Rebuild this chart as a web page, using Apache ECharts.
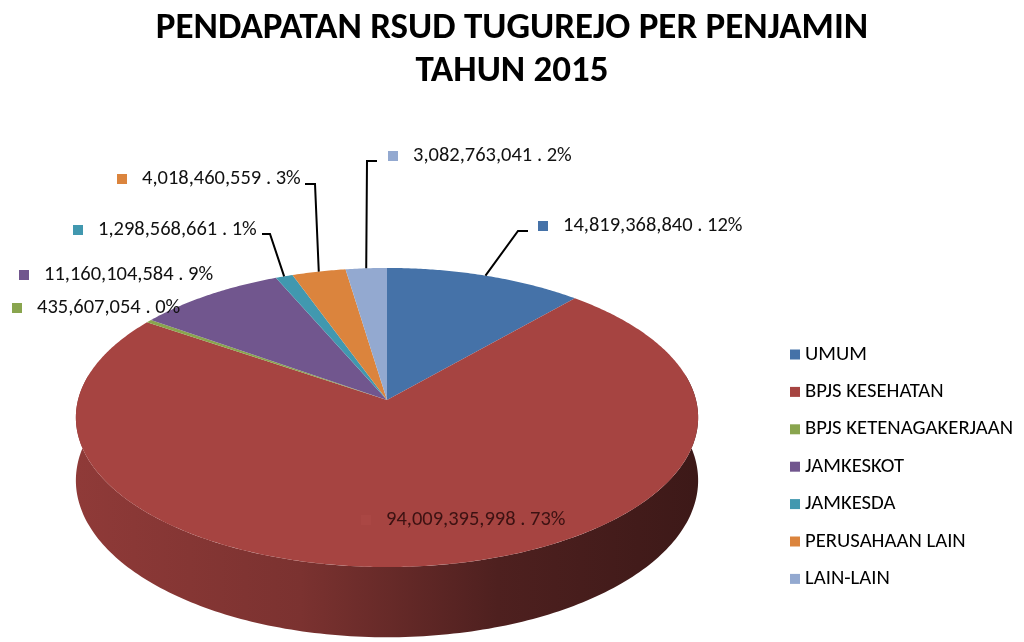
<!DOCTYPE html>
<html>
<head>
<meta charset="utf-8">
<title>Pendapatan RSUD Tugurejo</title>
<script src="https://cdn.jsdelivr.net/npm/echarts@6/dist/echarts.min.js"></script>
<style>
    html, body { margin: 0; padding: 0; background: #fff; }
    #main { width: 1024px; height: 642px; }
</style>
</head>
<body>
<div id="main"></div>
<script>
// data
var categories = ['UMUM', 'BPJS KESEHATAN', 'BPJS KETENAGAKERJAAN', 'JAMKESKOT', 'JAMKESDA', 'PERUSAHAAN LAIN', 'LAIN-LAIN'];
var values = [14819368840, 94009395998, 435607054, 11160104584, 1298568661, 4018460559, 3082763041];

// styles
var colors = ['#4572A8', '#A64441', '#89A54E', '#71568E', '#4198AF', '#DB843D', '#93A9D0'];
var font = "Carlito, Calibri, 'Liberation Sans Narrow', 'Open Sans', sans-serif";

// label layout: square left x, centre y
var labelPos = [[538, 226], [361, 520], [12, 308], [19, 275], [73, 230], [117, 179], [388, 156]];
// leader: start point at label, elbow; end point comes from the slice
var leaderPts = [[[528, 231], [518, 231]], null, null, null, [[262, 234], [270, 234]], [[305, 184], [315, 184]], [[377, 161], [367, 161]]];

// 3d-ish pie geometry (perspective ellipse)
var PIE = {cx: 387, cy: 400, rx: 309, ry: 147.5, a: 0.117, h: 62};

var total = values.reduce(function (s, v) { return s + v; }, 0);
var startAngles = [], endAngles = [];
(function () {
    var acc = 0;
    for (var i = 0; i < values.length; i++) {
        startAngles.push(acc / total * 360);
        acc += values[i];
        endAngles.push(acc / total * 360);
    }
})();

function proj(deg) {
    var t = deg * Math.PI / 180;
    var u = Math.sin(t), v = -Math.cos(t);
    var s = 1 / (1 - PIE.a * v);
    return [PIE.cx + PIE.rx * u * s, PIE.cy + PIE.ry * v * s, s];
}

function fmt(n) {
    return String(n).replace(/\B(?=(\d{3})+(?!\d))/g, ',');
}

function shade(hex, f) {
    var c = parseInt(hex.slice(1), 16);
    var r = Math.round(((c >> 16) & 255) * f), g = Math.round(((c >> 8) & 255) * f), b = Math.round((c & 255) * f);
    return 'rgb(' + r + ',' + g + ',' + b + ')';
}

function sideFill(i) {
    return {
        type: 'linear', global: true,
        x: PIE.cx - PIE.rx, y: 0, x2: PIE.cx + PIE.rx, y2: 0,
        colorStops: [
            {offset: 0, color: shade(colors[i], 0.86)},
            {offset: 0.36, color: shade(colors[i], 0.74)},
            {offset: 0.68, color: shade(colors[i], 0.47)},
            {offset: 1, color: shade(colors[i], 0.37)}
        ]
    };
}

function renderSlice(i) {
    return function (params, api) {
        var a0 = startAngles[i], a1 = endAngles[i];
        var children = [];
        // side (only the front part can be seen)
        var s0 = Math.max(a0, 80), s1 = Math.min(a1, 280);
        if (s1 > s0) {
            var up = [], low = [];
            var m = Math.max(2, Math.ceil(s1 - s0));
            for (var k = 0; k <= m; k++) {
                var q = proj(s0 + (s1 - s0) * k / m);
                up.push([q[0], q[1]]);
                low.unshift([q[0], q[1] + PIE.h * q[2]]);
            }
            children.push({type: 'polygon', z2: 1, shape: {points: up.concat(low)}, style: {fill: sideFill(i)}});
        }
        // top face
        var top = [[PIE.cx, PIE.cy]];
        var n = Math.max(2, Math.ceil((a1 - a0) * 2));
        for (var j = 0; j <= n; j++) {
            var p = proj(a0 + (a1 - a0) * j / n);
            top.push([p[0], p[1]]);
        }
        children.push({type: 'polygon', z2: 10, shape: {points: top}, style: {fill: colors[i]}});

        // data label
        var pct = Math.round(values[i] / total * 100);
        var lp = labelPos[i];
        children.push({type: 'rect', z2: 20, shape: {x: lp[0], y: lp[1] - 5, width: 10, height: 10},
            style: {fill: i === 1 ? '#AA4744' : colors[i]}});
        children.push({
            type: 'text', z2: 20, x: lp[0] + 25, y: lp[1],
            style: {
                text: fmt(values[i]) + ' . ' + pct + '%',
                fill: i === 1 ? '#3c1212' : '#111',
                font: '20.5px ' + font,
                verticalAlign: 'middle'
            }
        });
        if (leaderPts[i]) {
            var e = proj((a0 + a1) / 2);
            children.push({
                type: 'polyline', z2: 20,
                shape: {points: [leaderPts[i][0], leaderPts[i][1], [e[0], e[1]]]},
                style: {stroke: '#000', lineWidth: 2, fill: null}
            });
        }
        return {type: 'group', children: children};
    };
}

function init() {
    var myChart = echarts.init(document.getElementById('main'));
    var series = categories.map(function (name, i) {
        return {
            name: name,
            type: 'custom',
            coordinateSystem: 'none',
            silent: true,
            itemStyle: {color: colors[i]},
            renderItem: renderSlice(i),
            data: [values[i]]
        };
    });
    var option = {
        animation: false,
        color: colors,
        title: {
            text: 'PENDAPATAN RSUD TUGUREJO PER PENJAMIN\nTAHUN 2015',
            left: 'center',
            top: 2,
            textStyle: {fontSize: 37, fontWeight: 'bold', color: '#000', lineHeight: 43, fontFamily: font}
        },
        legend: {
            orient: 'vertical',
            left: 785,
            top: 339,
            icon: 'rect',
            itemWidth: 10,
            itemHeight: 10,
            itemGap: 16.4,
            selectedMode: false,
            textStyle: {fontSize: 20.7, color: '#000', lineHeight: 20, fontFamily: font, padding: [0, 0, 0, 0]},
            data: categories
        },
        series: series
    };
    myChart.setOption(option);
}

init();
</script>
</body>
</html>
